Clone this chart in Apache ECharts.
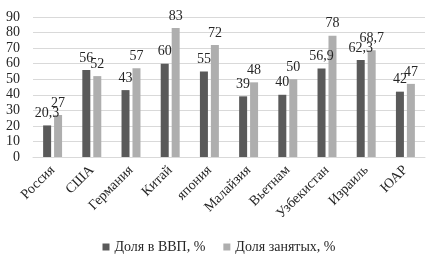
<!DOCTYPE html>
<html><head><meta charset="utf-8">
<script src="https://cdn.jsdelivr.net/npm/echarts@6/dist/echarts.min.js"></script>
<style>html,body{margin:0;padding:0;background:#fff}#c{width:438px;height:262px}</style>
</head><body><div id="c"></div>
<script>
const categories = ['Россия','США','Германия','Китай','япония','Малайзия','Вьетнам','Узбекистан','Израиль','ЮАР'];
const gdpShare = [20.3,56,43,60,55,39,40,56.9,62.3,42];
const employShare = [27,52,57,83,72,48,50,78,68.7,47];
const seriesNames = ['Доля в ВВП, %','Доля занятых, %'];
const yTicks = {min:0,max:90,interval:10};

const font = '"Liberation Serif","Times New Roman",serif';
const fmt = p => String(p.value).replace('.', ',');
const chart = echarts.init(document.getElementById('c'), null, {renderer:'canvas'});
chart.setOption({
  animation:false,
  textStyle:{fontFamily:font},
  grid:{left:33,right:13,top:17,bottom:105,containLabel:false},
  legend:{bottom:3,left:'center',itemWidth:7,itemHeight:7,itemGap:18,icon:'rect',
    textStyle:{fontFamily:font,fontSize:14,color:'#262626'},data:seriesNames},
  xAxis:{type:'category',data:categories,
    axisLine:{lineStyle:{color:'#d9d9d9'}},axisTick:{show:false},
    axisLabel:{rotate:45,interval:0,fontFamily:font,fontSize:14,color:'#262626',margin:11}},
  yAxis:{type:'value',min:yTicks.min,max:yTicks.max,interval:yTicks.interval,
    axisLine:{show:false},axisTick:{show:false},
    splitLine:{lineStyle:{color:'#d9d9d9'}},
    axisLabel:{fontFamily:font,fontSize:14,color:'#262626',margin:13}},
  series:[
    {name:seriesNames[0],type:'bar',data:gdpShare,barWidth:8,barGap:'37%',
     itemStyle:{color:'#5a5a5a'},
     label:{show:true,position:'top',distance:5,formatter:fmt,fontFamily:font,fontSize:14,color:'#262626'}},
    {name:seriesNames[1],type:'bar',data:employShare,barWidth:8,
     itemStyle:{color:'#aeaeae'},
     label:{show:true,position:'top',distance:5,formatter:fmt,fontFamily:font,fontSize:14,color:'#262626'}}
  ]
});
</script></body></html>
